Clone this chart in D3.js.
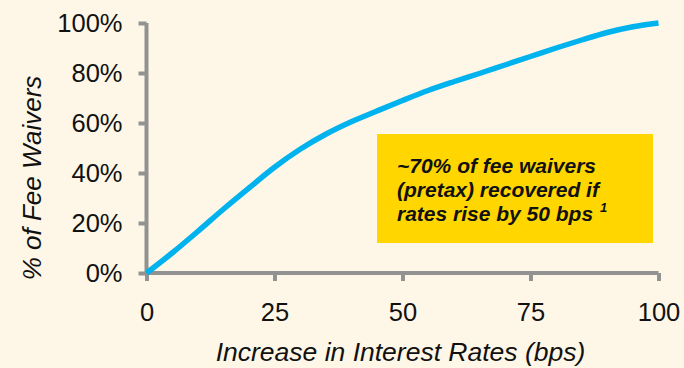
<!DOCTYPE html>
<html>
<head>
<meta charset="utf-8">
<script src="https://cdn.jsdelivr.net/npm/d3@7"></script>
<style>
  html, body { margin: 0; padding: 0; background: #FEF7E7; }
  svg { display: block; }
</style>
</head>
<body>
<script>
// Data
const bps = [0, 5, 10, 15, 20, 25, 30, 35, 40, 45, 50, 55, 60, 65, 70, 75, 80, 85, 90, 95, 100];
const recovered = [0, 0.08, 0.166, 0.255, 0.34, 0.423, 0.495, 0.555, 0.605, 0.648, 0.69, 0.73, 0.765, 0.798, 0.832, 0.866, 0.90, 0.932, 0.962, 0.985, 1.0];
const xTicks = [0, 25, 50, 75, 100];
const yTicks = [0, 0.2, 0.4, 0.6, 0.8, 1.0];
const xTitle = "Increase in Interest Rates (bps)";
const yTitle = "% of Fee Waivers";
const noteLines = ["~70% of fee waivers", "(pretax) recovered if", "rates rise by 50 bps"];
const noteSup = "1";

const W = 684, H = 368;
const FONT = "'Liberation Sans', Arial, sans-serif";
const svg = d3.select("body").append("svg").attr("width", W).attr("height", H);
svg.append("rect").attr("width", W).attr("height", H).attr("fill", "#FEF7E7");

const x = d3.scaleLinear().domain([0, 100]).range([146.5, 658.5]);
const y = d3.scaleLinear().domain([0, 1]).range([273, 23]);

const axisColor = "#929292";

// Y axis
const yAxis = svg.append("g").attr("transform", `translate(${x(0)},0)`)
  .call(d3.axisLeft(y).tickValues(yTicks).tickFormat(d3.format(".0%")).tickSize(8).tickPadding(16));
// X axis
const xAxis = svg.append("g").attr("transform", `translate(0,${y(0)})`)
  .call(d3.axisBottom(x).tickValues(xTicks).tickSize(8).tickPadding(16));

[yAxis, xAxis].forEach(g => {
  g.select(".domain").attr("stroke", axisColor).attr("stroke-width", 4);
  g.selectAll(".tick line").attr("stroke", axisColor).attr("stroke-width", 4);
  g.selectAll(".tick text").attr("fill", "#111").attr("font-family", FONT).attr("font-size", 25.5);
});
yAxis.select(".domain").attr("d", `M0,${y(1)}V${y(0)}`);
xAxis.select(".domain").attr("d", `M${x(0)},0H${x(100)}`);
xAxis.selectAll(".tick text").attr("dy", "0.95em");

// Curve
const line = d3.line()
  .x((d, i) => x(bps[i]))
  .y((d, i) => y(recovered[i]))
  .curve(d3.curveMonotoneX);
svg.append("path")
  .datum(recovered)
  .attr("d", line)
  .attr("fill", "none")
  .attr("stroke", "#00B2EE")
  .attr("stroke-width", 5.5)
  .attr("stroke-linecap", "butt");

// Axis titles
svg.append("text")
  .attr("x", (x(0) + x(100)) / 2 - 2)
  .attr("y", 361)
  .attr("text-anchor", "middle")
  .attr("font-family", FONT)
  .attr("font-style", "italic")
  .attr("font-size", 26.5)
  .attr("fill", "#111")
  .text(xTitle);

svg.append("text")
  .attr("transform", `translate(41,178) rotate(-90)`)
  .attr("text-anchor", "middle")
  .attr("font-family", FONT)
  .attr("font-style", "italic")
  .attr("font-size", 26)
  .attr("fill", "#111")
  .text(yTitle);

// Annotation box
svg.append("rect")
  .attr("x", 377).attr("y", 134).attr("width", 276).attr("height", 109)
  .attr("fill", "#FFD600");
const note = svg.append("g").attr("font-family", FONT).attr("font-style", "italic")
  .attr("font-weight", "bold").attr("fill", "#111");
noteLines.forEach((t, i) => {
  const tx = note.append("text")
    .attr("x", 397)
    .attr("y", 172.5 + i * 24)
    .attr("font-size", 21)
    .text(t);
  if (i === noteLines.length - 1) {
    tx.append("tspan").attr("font-size", 13).attr("dx", 7).attr("dy", -9).text(noteSup);
  }
});
</script>
</body>
</html>
